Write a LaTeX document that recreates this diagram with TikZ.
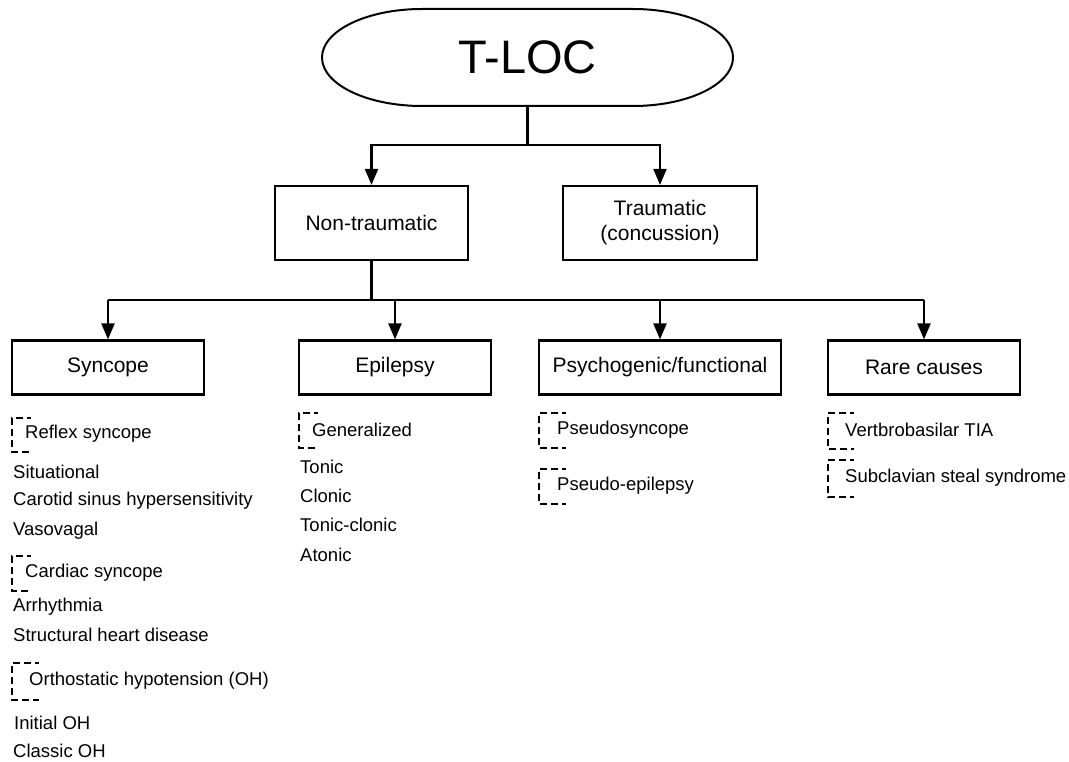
\documentclass[tikz,border=0pt]{standalone}
\usepackage{fontspec}
\setmainfont{Liberation Sans}
\usetikzlibrary{arrows.meta}
\begin{document}
\begin{tikzpicture}[x=1pt,y=1pt,
  box/.style={draw, line width=2.2pt, minimum width=193pt, minimum height=54pt, inner sep=0pt, align=center, font=\fontsize{21}{25}\selectfont},
  bigbox/.style={box, minimum height=74pt},
  item/.style={anchor=west, inner sep=0pt, font=\fontsize{18.5}{22}\selectfont},
  arr/.style={line width=2.2pt, -{Triangle[length=16pt,width=13pt]}},
  conn/.style={line width=2.2pt},
  brk/.style={line width=2.2pt, dash pattern=on 7pt off 4pt, dash phase=3pt}]
\useasboundingbox (0,0) rectangle (1069,-762);
% top stadium
\node[minimum width=411pt, minimum height=97pt, inner sep=0pt, font=\fontsize{47}{50}\selectfont] (tloc) at (527.5,-57.5) {T-LOC};
\draw[line width=2pt] (422,-9) -- (633,-9) arc[start angle=90, end angle=-90, x radius=100, y radius=48.5]
  -- (422,-106) arc[start angle=270, end angle=90, x radius=100, y radius=48.5] -- cycle;
% level 2
\node[bigbox, minimum width=193pt] (nontr) at (371.5,-223) {Non-traumatic};
\node[bigbox, minimum width=194pt] (trau) at (660,-223) {Traumatic\\(concussion)};
\coordinate (j1) at (527.5,-145);
\draw[conn] (tloc.south) -- (j1);
\draw[arr] (j1) -| (nontr.north);
\draw[arr] (j1) -| (trau.north);
% level 3
\node[box, minimum width=192pt] (sync) at (108,-367.5) {Syncope};
\node[box, minimum width=192pt] (epi) at (395,-367.5) {Epilepsy};
\node[box, minimum width=242pt] (psy) at (660,-367.5) {Psychogenic/functional};
\node[box, minimum width=192pt] (rare) at (924,-367.5) {Rare causes};
\coordinate (j2) at (371.5,-300);
\draw[conn] (nontr.south) -- (j2);
\draw[conn] (sync.north |- j2) -- (rare.north |- j2);
\draw[arr] (sync.north |- j2) -- (sync.north);
\draw[arr] (epi.north |- j2) -- (epi.north);
\draw[arr] (psy.north |- j2) -- (psy.north);
\draw[arr] (rare.north |- j2) -- (rare.north);
% syncope list
\draw[brk] (31,-418) -| (12,-452) -- (31,-452);
\node[item] (reflex) at (25,-434) {Reflex syncope};
\node[item] (sit) at (13,-472) {Situational};
\node[item] (car) at (13,-501) {Carotid sinus hypersensitivity};
\node[item] (vaso) at (13,-531) {Vasovagal};
\draw[brk] (31,-556) -| (12,-591) -- (31,-591);
\node[item] (cardiac) at (25,-573) {Cardiac syncope};
\node[item] (arr) at (13,-607) {Arrhythmia};
\node[item] (struct) at (13,-635) {Structural heart disease};
\draw[brk] (39,-663) -| (12,-700) -- (39,-700);
\node[item] (oh) at (29,-681) {Orthostatic hypotension (OH)};
\node[item] (ioh) at (14,-723) {Initial OH};
\node[item] (coh) at (13,-751) {Classic OH};
% epilepsy list
\draw[brk] (318,-413) -| (299,-448) -- (318,-448);
\node[item] (gen) at (312,-430) {Generalized};
\node[item] (tonic) at (300,-467) {Tonic};
\node[item] (clonic) at (300,-496) {Clonic};
\node[item] (tc) at (300,-525) {Tonic-clonic};
\node[item] (atonic) at (300,-555) {Atonic};
% psychogenic list
\draw[brk] (566,-413) -| (539,-448) -- (566,-448);
\node[item] (psyn) at (557,-430) {Pseudosyncope};
\draw[brk] (566,-469) -| (539,-504) -- (566,-504);
\node[item] (pepi) at (557,-486) {Pseudo-epilepsy};
% rare list
\draw[brk] (854,-413) -| (828,-449) -- (854,-449);
\node[item] (vtia) at (845,-430) {Vertbrobasilar TIA};
\draw[brk] (854,-460) -| (828,-497) -- (854,-497);
\node[item] (ssub) at (845,-478) {Subclavian steal syndrome};
\end{tikzpicture}
\end{document}
